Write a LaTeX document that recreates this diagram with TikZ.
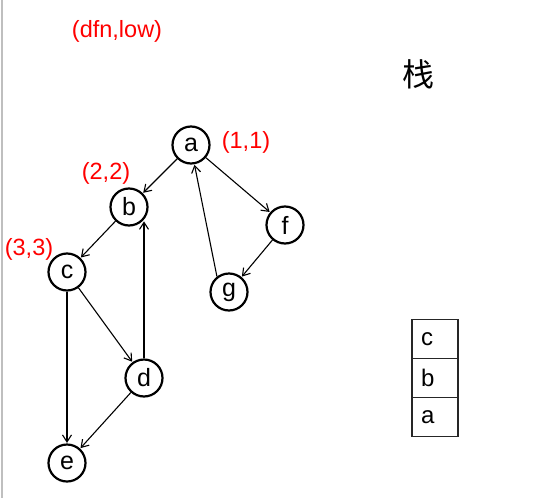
\documentclass[tikz,border=0pt]{standalone}
\usepackage{fontspec}
\setmainfont{Liberation Sans}
\newfontfamily\cjk{Noto Sans CJK SC}
\usetikzlibrary{arrows.meta}
\begin{document}
\begin{tikzpicture}[x=1pt,y=-1pt,
  vtx/.style={circle,draw,line width=2.2pt,minimum size=37pt,inner sep=0pt,font=\fontsize{25}{28}\selectfont},
  edge/.style={line width=1.1pt,-{Straight Barb[length=7pt,width=9pt,line width=1.1pt]},shorten >=0.5pt},
  lbl/.style={text=red,font=\fontsize{23.5}{26}\selectfont,inner sep=0pt},
  cell/.style={draw=black!85,line width=1.5pt,minimum width=46pt,minimum height=39pt,inner sep=0pt,text width=28pt,align=left,font=\fontsize{24}{28}\selectfont}
]
\useasboundingbox (0,0) rectangle (538,498);
\draw[black!25,line width=2pt] (2,0) -- (2,498);
% nodes
\node[vtx] (a) at (191,145) {a};
\node[vtx] (b) at (129,207) {b};
\node[vtx] (c) at (67,272) {c};
\node[vtx] (f) at (285,225) {f};
\node[vtx] (g) at (229,292) {g};
\node[vtx] (d) at (144,378) {d};
\node[vtx] (e) at (67,463) {e};
% labels
\node[lbl] (t0) at (117,31) {(dfn,low)};
\node[lbl] (t1) at (246,142) {(1,1)};
\node[lbl] (t2) at (106,173) {(2,2)};
\node[lbl] (t3) at (29,249) {(3,3)};
\node[font=\cjk\fontsize{32}{34}\selectfont,inner sep=0pt] (zh) at (418,74) {栈};
% edges
\draw[edge] (a) -- (b);
\draw[edge] (b) -- (c);
\draw[edge] (c) -- (d);
\draw[edge] (c) -- (e);
\draw[edge] (d) -- (e);
\draw[edge] (d.north) -- (d.north |- b.-45);
\draw[edge] (a) -- (f);
\draw[edge] (f) -- (g);
\draw[edge] (g.128) -- (a.-80);
% stack
\node[cell] (sc) at (435,339) {c};
\node[cell] (sb) at (435,378) {b};
\node[cell] (sa) at (435,417) {a};
\end{tikzpicture}
\end{document}
